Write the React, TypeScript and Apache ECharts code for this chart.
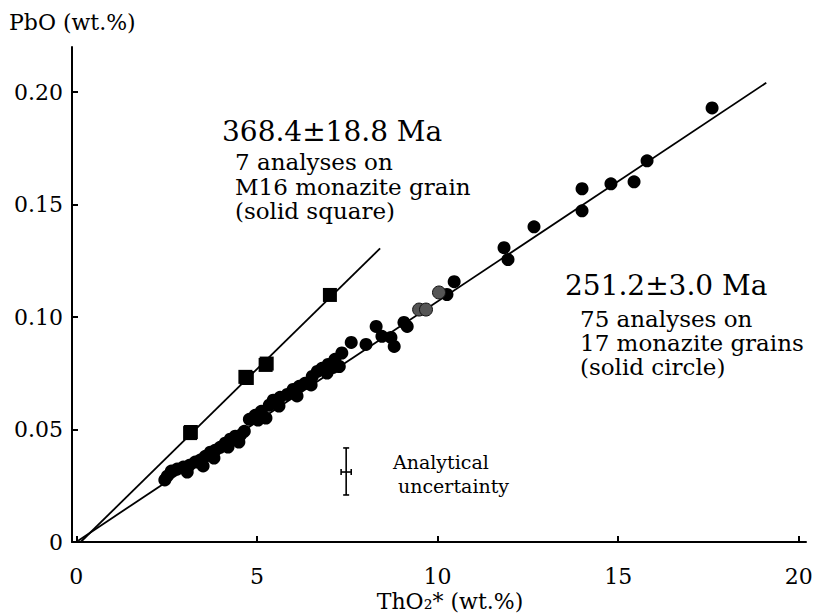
import React, { useEffect, useRef } from "react";
import * as echarts from "echarts";

const xTicks = [0, 5, 10, 15, 20];
const yTicks = [0, 0.05, 0.1, 0.15, 0.2];

// M16 monazite grain (solid square), 7 analyses
const squares: [number, number][] = [
  [3.17, 0.0489], [3.15, 0.0484], [4.72, 0.0729], [4.68, 0.0734],
  [5.24, 0.0787], [5.27, 0.0793], [7.02, 0.1098],
];

// 17 monazite grains (solid circle)
const circles: [number, number][] = [
  [2.52, 0.0293], [2.45, 0.0276], [2.63, 0.0315], [2.79, 0.0324], [2.96, 0.0333],
  [3.07, 0.0311], [3.13, 0.0341], [3.29, 0.0355], [3.43, 0.0364], [3.51, 0.0338],
  [3.57, 0.0381], [3.71, 0.0399], [3.81, 0.0373], [3.85, 0.0408], [3.98, 0.0421],
  [4.12, 0.0439], [4.2, 0.0422], [4.26, 0.0457], [4.4, 0.047], [4.5, 0.0444],
  [4.54, 0.0474], [4.65, 0.0492], [4.79, 0.0545], [4.95, 0.0563], [5.03, 0.0542],
  [5.12, 0.0581], [5.25, 0.0551], [5.34, 0.0608], [5.45, 0.063], [5.61, 0.0604],
  [5.64, 0.0643], [5.84, 0.0656], [6.0, 0.0678], [6.11, 0.0649], [6.17, 0.0692],
  [6.33, 0.0705], [6.5, 0.0698], [6.53, 0.0736], [6.67, 0.0758], [6.8, 0.0772],
  [6.94, 0.0751], [6.97, 0.0789], [7.11, 0.0776], [7.16, 0.0812], [7.28, 0.078],
  [7.35, 0.084], [7.61, 0.0887], [8.02, 0.0878], [8.3, 0.0958], [8.46, 0.0914],
  [8.71, 0.0909], [8.8, 0.0869], [9.07, 0.0976], [9.16, 0.0958], [10.26, 0.11],
  [10.46, 0.1157], [11.84, 0.1308], [11.95, 0.1255], [12.67, 0.1401], [14.0, 0.157],
  [14.0, 0.1472], [14.8, 0.1592], [15.44, 0.1601], [15.8, 0.1694], [17.6, 0.1929],
];
const stippled: [number, number][] = [
  [9.49, 0.1033], [9.68, 0.1033], [10.04, 0.1109],
];

const squareLine: [number, number][] = [[0.12, 0], [8.41, 0.1305]];
const circleLine: [number, number][] = [[0.05, 0.0006], [19.1, 0.2041]];

const uncertaintyCenter = [7.47, 0.0311];
const uncertaintyY = [0.0209, 0.0418];
const uncertaintyX = [7.33, 7.61];

const FONT = "'DejaVu Serif', 'Liberation Serif', serif";

function txt(text: string, x: number, y: number, size: number, align = "left") {
  return {
    type: "text",
    x,
    y,
    silent: true,
    style: {
      text,
      fontFamily: FONT,
      fontSize: size,
      fill: "#000",
      align,
      verticalAlign: "middle",
      textAlign: align,
      textVerticalAlign: "middle",
    },
  };
}

export default function App() {
  const ref = useRef<HTMLDivElement>(null);
  useEffect(() => {
    if (!ref.current) return;
    const chart = echarts.init(ref.current, null, { renderer: "svg" });
    const axisLabelBase = { fontFamily: FONT, fontSize: 22, color: "#000" };
    chart.setOption({
      animation: false,
      backgroundColor: "#fff",
      grid: { left: 72, right: 13, top: 47, bottom: 73, containLabel: false },
      xAxis: {
        type: "value",
        min: -0.12,
        max: 20.2,
        axisLine: { show: true, onZero: false, lineStyle: { color: "#000", width: 2 } },
        axisTick: { show: true, inside: true, length: 6, customValues: xTicks, lineStyle: { color: "#000", width: 2 } },
        axisLabel: { ...axisLabelBase, customValues: xTicks, margin: 23, formatter: (v: number) => String(v) },
        splitLine: { show: false },
      },
      yAxis: {
        type: "value",
        min: 0,
        max: 0.22,
        axisLine: { show: true, onZero: false, lineStyle: { color: "#000", width: 2 } },
        axisTick: { show: true, inside: true, length: 6, customValues: yTicks, lineStyle: { color: "#000", width: 2 } },
        axisLabel: {
          ...axisLabelBase,
          customValues: yTicks,
          margin: 9,
          formatter: (v: number) => (v === 0 ? "0" : v.toFixed(2)),
        },
        splitLine: { show: false },
      },
      series: [
        {
          type: "line",
          data: squareLine,
          symbol: "none",
          lineStyle: { color: "#000", width: 1.8 },
          z: 1,
        },
        {
          type: "line",
          data: circleLine,
          symbol: "none",
          lineStyle: { color: "#000", width: 1.8 },
          z: 1,
        },
        {
          type: "scatter",
          data: circles,
          symbol: "circle",
          symbolSize: 13,
          itemStyle: { color: "#000", opacity: 1 },
          z: 3,
        },
        {
          type: "scatter",
          data: stippled,
          symbol: "circle",
          symbolSize: 13,
          itemStyle: { color: "#555", borderColor: "#111", borderWidth: 1, opacity: 1 },
          z: 3,
        },
        {
          type: "scatter",
          data: squares,
          symbol: "rect",
          symbolSize: 14,
          itemStyle: { color: "#000", opacity: 1 },
          z: 3,
        },
        {
          type: "custom",
          data: [uncertaintyCenter],
          z: 3,
          renderItem: (_p: any, api: any) => {
            const cx = uncertaintyCenter[0];
            const cy = uncertaintyCenter[1];
            const top = api.coord([cx, uncertaintyY[1]]);
            const bot = api.coord([cx, uncertaintyY[0]]);
            const l = api.coord([uncertaintyX[0], cy]);
            const r = api.coord([uncertaintyX[1], cy]);
            const st = { stroke: "#000", lineWidth: 1.6 };
            const ln = (x1: number, y1: number, x2: number, y2: number) => ({
              type: "line",
              shape: { x1, y1, x2, y2 },
              style: st,
            });
            return {
              type: "group",
              children: [
                ln(top[0], top[1], bot[0], bot[1]),
                ln(l[0], l[1], r[0], r[1]),
                ln(top[0] - 3, top[1], top[0] + 3, top[1]),
                ln(bot[0] - 3, bot[1], bot[0] + 3, bot[1]),
                ln(l[0], l[1] - 3, l[0], l[1] + 3),
                ln(r[0], r[1] - 3, r[0], r[1] + 3),
              ],
            };
          },
        },
      ],
      graphic: [
        txt("PbO (wt.%)", 9, 22, 22),
        txt("ThO₂* (wt.%)", 450, 601, 22, "center"),
        txt("368.4±18.8 Ma", 222, 131, 28),
        txt("7 analyses on", 235, 162, 23),
        txt("M16 monazite grain", 235, 187, 23),
        txt("(solid square)", 235, 211, 23),
        txt("251.2±3.0 Ma", 565, 285, 28),
        txt("75 analyses on", 580, 319, 23),
        txt("17 monazite grains", 580, 343, 23),
        txt("(solid circle)", 580, 367, 23),
        txt("Analytical", 393, 462, 19),
        txt("uncertainty", 398, 486, 19),
      ],
    });
    return () => chart.dispose();
  }, []);
  return (
    <div
      ref={ref}
      style={{ position: "absolute", left: 0, top: 0, width: 819, height: 615, background: "#fff" }}
    />
  );
}
